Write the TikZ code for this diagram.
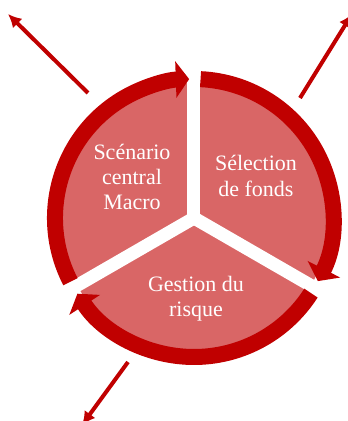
\documentclass[tikz,border=0pt]{standalone}
\usepackage{fontspec}
\setmainfont{Liberation Serif}
\usetikzlibrary{arrows.meta}
\definecolor{ringred}{RGB}{192,0,0}
\definecolor{sectorpink}{RGB}{217,102,102}
\tikzstyle{sectortext} = [text=white, align=center, font=\fontsize{16.5}{19}\selectfont]
\tikzstyle{ring} = [draw=ringred, line width=12pt, -{Triangle[width=27pt,length=10pt]}]
\tikzstyle{gap} = [draw=white, line width=9.75pt]
\tikzstyle{line} = [draw=ringred, line width=3pt, -{Latex[length=10pt,width=10pt]}]

\begin{document}
\begin{tikzpicture}[x=0.75pt, y=0.75pt]
    \useasboundingbox (-194,-203) rectangle (154,218);
    \clip (-194,-203) rectangle (154,218);
    % Sectors
    \fill [sectorpink] (0,0) circle (135);
    \foreach \a in {90,210,330}
        \path [gap] (0,0) -- (\a:150);
    % Ring arrows
    \path [ring] (207.3:139) arc [start angle=207.3, end angle=92, radius=139];
    \path [ring] (87.3:139) arc [start angle=87.3, end angle=-27, radius=139];
    \path [ring] (-32.7:139) arc [start angle=-32.7, end angle=-147, radius=139];
    % Place nodes
    \node [sectortext] (macro) at (-62,41) {Scénario\\central\\Macro};
    \node [sectortext] (fonds) at (62,42) {Sélection\\de fonds};
    \node [sectortext] (risque) at (2,-81) {Gestion du\\risque};
    % Outer arrows
    \coordinate (nwstart) at (-106,125);
    \coordinate (nwtip) at (-186,204);
    \coordinate (nestart) at (106,120);
    \coordinate (netip) at (158,204);
    \coordinate (swstart) at (-66,-144);
    \coordinate (swtip) at (-112,-207);
    \path [line] (nwstart) -- (nwtip);
    \path [line] (nestart) -- (netip);
    \path [line] (swstart) -- (swtip);
\end{tikzpicture}
\end{document}
